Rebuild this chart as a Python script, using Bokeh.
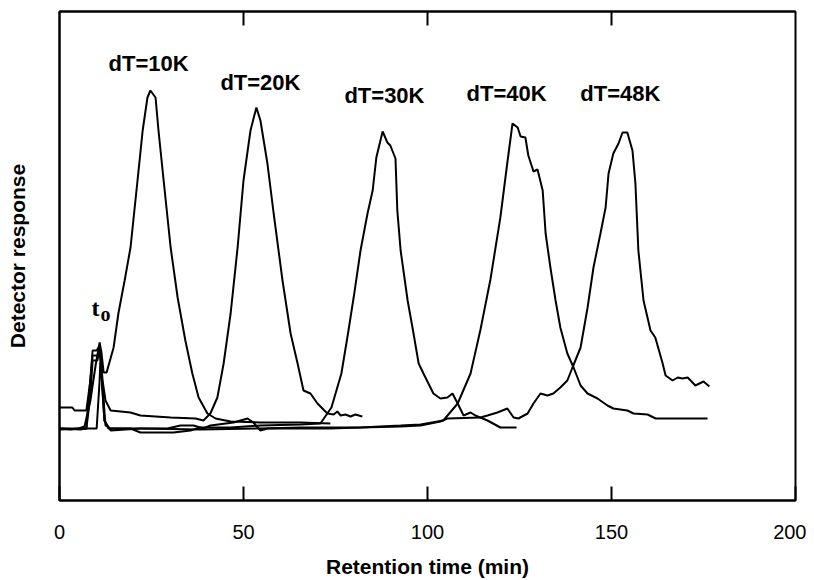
from bokeh.plotting import figure
from bokeh.models import Range1d, LinearAxis, FixedTicker
from bokeh.core.properties import value
from bokeh.embed import file_html
from bokeh.resources import INLINE

# Retention time (min) and detector response (arbitrary units) for each chromatogram
t_10K = [0.0, 3.0, 5.2, 6.8, 8.4, 9.8, 10.9, 11.4, 12.0, 12.8, 14.7, 16.0, 17.7, 19.3, 21.2, 22.6,
         23.9, 24.7, 26.1, 26.9, 28.3, 30.2, 32.1, 34.2, 36.1, 37.8, 40.2, 42.4, 46.5, 54.6, 65.5, 73.6]
r_10K = [72, 71, 72, 74, 100, 135, 158, 148, 128, 128, 153, 187, 220, 253, 320, 370,
         403, 410, 403, 370, 320, 253, 203, 160, 127, 103, 87, 82, 79, 78, 78, 77]

t_20K = [0.0, 3.5, 4.1, 7.3, 8.4, 9.0, 10.6, 11.1, 11.7, 12.5, 13.9, 19.3, 22.0, 30.2, 37.0, 39.1,
         40.2, 41.0, 42.9, 44.6, 46.5, 48.4, 50.0, 51.9, 53.5, 54.6, 56.5, 58.2, 60.6, 62.8, 64.7,
         66.3, 68.2, 70.1, 72.8, 74.5, 75.5, 76.4, 77.7, 79.1, 80.4, 82.3]
r_20K = [93, 93, 90, 90, 120, 145, 145, 150, 120, 100, 90, 88, 85, 83, 82, 80,
         84, 87, 103, 137, 187, 253, 320, 370, 393, 380, 337, 287, 220, 167, 137,
         110, 107, 97, 87, 86, 89, 85, 86, 84, 86, 84]

t_30K = [0.0, 5.7, 7.3, 8.4, 9.0, 10.3, 10.9, 11.4, 12.2, 13.3, 19.3, 22.0, 31.0, 35.6, 38.3, 46.5,
         54.6, 65.5, 70.9, 73.9, 76.6, 78.4, 80.1, 81.8, 83.7, 85.1, 86.1, 87.8, 89.1, 89.9, 91.3,
         91.8, 92.7, 94.6, 96.2, 97.6, 98.9, 101.6, 103.5, 105.4, 106.8, 108.2, 109.8, 111.7, 113.0,
         116.3, 119.8, 124.2]
r_30K = [72, 71, 72, 105, 140, 140, 152, 130, 80, 72, 72, 68, 68, 70, 73, 73,
         75, 76, 77, 93, 127, 167, 207, 250, 287, 310, 343, 369, 358, 355, 342,
         290, 250, 200, 167, 137, 127, 107, 102, 103, 107, 97, 85, 88, 85,
         80, 73, 73]

t_40K = [0.0, 7.3, 9.0, 10.1, 10.9, 11.4, 12.2, 13.9, 22.0, 29.3, 32.9, 36.4, 39.1, 41.0, 47.3, 51.1,
         52.7, 54.6, 56.5, 65.5, 73.6, 81.8, 87.2, 92.7, 98.1, 104.3, 108.2, 111.7, 114.4, 117.1,
         119.8, 121.7, 123.1, 124.5, 125.3, 126.6, 127.4, 128.8, 129.9, 131.3, 132.1, 133.4, 134.8,
         136.1, 138.0, 139.7, 141.6, 143.5, 146.2, 148.9, 150.5, 154.3, 156.0, 159.8, 162.0, 176.1]
r_40K = [71, 72, 150, 150, 155, 125, 80, 70, 72, 72, 75, 75, 72, 75, 78, 82,
         78, 70, 72, 72, 72, 73, 74, 75, 76, 80, 97, 127, 171, 221,
         283, 338, 377, 373, 364, 363, 345, 329, 331, 310, 267, 233, 200,
         173, 147, 133, 115, 107, 102, 95, 92, 90, 87, 86, 82, 82]

t_48K = [0.0, 7.3, 10.1, 10.9, 11.1, 11.7, 12.5, 13.9, 22.0, 38.3, 54.6, 65.5, 76.4, 81.8, 92.7, 98.1,
         103.5, 105.4, 114.4, 116.3, 119.0, 121.7, 123.4, 124.7, 127.2, 128.8, 130.7, 132.6, 134.2,
         136.1, 138.0, 139.4, 141.6, 143.5, 145.1, 147.0, 148.4, 149.2, 150.5, 151.9, 153.0, 154.3,
         155.7, 156.5, 157.3, 158.7, 160.6, 161.9, 163.9, 164.7, 166.6, 168.0, 169.3, 170.7, 172.8,
         175.0, 176.6]
r_48K = [72, 72, 72, 120, 138, 115, 75, 72, 72, 71, 72, 73, 73, 73, 74, 75,
         79, 82, 83, 85, 88, 92, 83, 82, 87, 97, 107, 105, 107,
         113, 120, 133, 153, 193, 233, 267, 293, 327, 347, 357, 368, 368,
         350, 317, 250, 200, 170, 163, 137, 125, 120, 123, 122, 123, 115,
         119, 114]

series_names = ["dT=10K", "dT=20K", "dT=30K", "dT=40K", "dT=48K"]
label_x = [24.2, 54.6, 88.3, 121.5, 152.4]
label_y = [437, 418, 405, 407, 407]

x_ticks = [0, 50, 100, 150, 200]
top_ticks = [50, 100, 150]

p = figure(width=806, height=580, x_range=Range1d(0, 200), y_range=Range1d(0, 489),
           output_backend="svg", toolbar_location=None,
           x_axis_location=None, y_axis_location=None,
           min_border_left=59, min_border_right=11, min_border_top=11, min_border_bottom=80,
           background_fill_color="white", border_fill_color="white")
for g in p.grid:
    g.visible = False
p.outline_line_color = "black"
p.outline_line_width = 2
p.outline_line_alpha = 1.0

FONT = "Liberation Sans"

xa = LinearAxis(ticker=FixedTicker(ticks=x_ticks), axis_label="Retention time (min)",
                major_tick_in=14, major_tick_out=0, minor_tick_line_color=None,
                axis_line_width=2, axis_line_color="black",
                major_tick_line_width=2, major_tick_line_color="black",
                major_label_text_font=FONT, major_label_text_font_size="20px",
                major_label_text_color="black", major_label_standoff=24,
                axis_label_text_font=FONT, axis_label_text_font_size="21px",
                axis_label_text_font_style="bold", axis_label_text_color="black",
                axis_label_standoff=13)
p.add_layout(xa, "below")

ta = LinearAxis(ticker=FixedTicker(ticks=top_ticks),
                major_tick_in=14, major_tick_out=0, minor_tick_line_color=None,
                axis_line_width=2, axis_line_color="black",
                major_tick_line_width=2, major_tick_line_color="black",
                major_label_text_font_size="1px", major_label_text_color=None,
                major_label_standoff=0)
p.add_layout(ta, "above")

ya = LinearAxis(ticker=FixedTicker(ticks=[]), axis_label="Detector response",
                major_tick_in=0, major_tick_out=0, minor_tick_line_color=None,
                axis_line_width=2, axis_line_color="black",
                major_label_text_font_size="1px", major_label_text_color=None,
                major_label_standoff=0,
                axis_label_text_font=FONT, axis_label_text_font_size="21px",
                axis_label_text_font_style="bold", axis_label_text_color="black",
                axis_label_standoff=31)
p.add_layout(ya, "left")

for tx, ry in [(t_10K, r_10K), (t_20K, r_20K), (t_30K, r_30K), (t_40K, r_40K), (t_48K, r_48K)]:
    p.line(tx, ry, line_color="black", line_width=2)

p.text(x=label_x, y=label_y, text=series_names, text_font=value(FONT), text_font_style="bold",
       text_font_size="22px", text_align="center", text_baseline="middle", text_color="black")

p.text(x=[9.8], y=[193], text=["t"], text_font=value("Liberation Serif"), text_font_style="bold",
       text_font_size="24px", text_align="center", text_baseline="alphabetic", text_color="black")
p.text(x=[12.5], y=[187], text=["o"], text_font=value("Liberation Serif"), text_font_style="bold",
       text_font_size="20px", text_align="center", text_baseline="alphabetic", text_color="black")

open("out.html", "w").write(file_html(p, INLINE))
